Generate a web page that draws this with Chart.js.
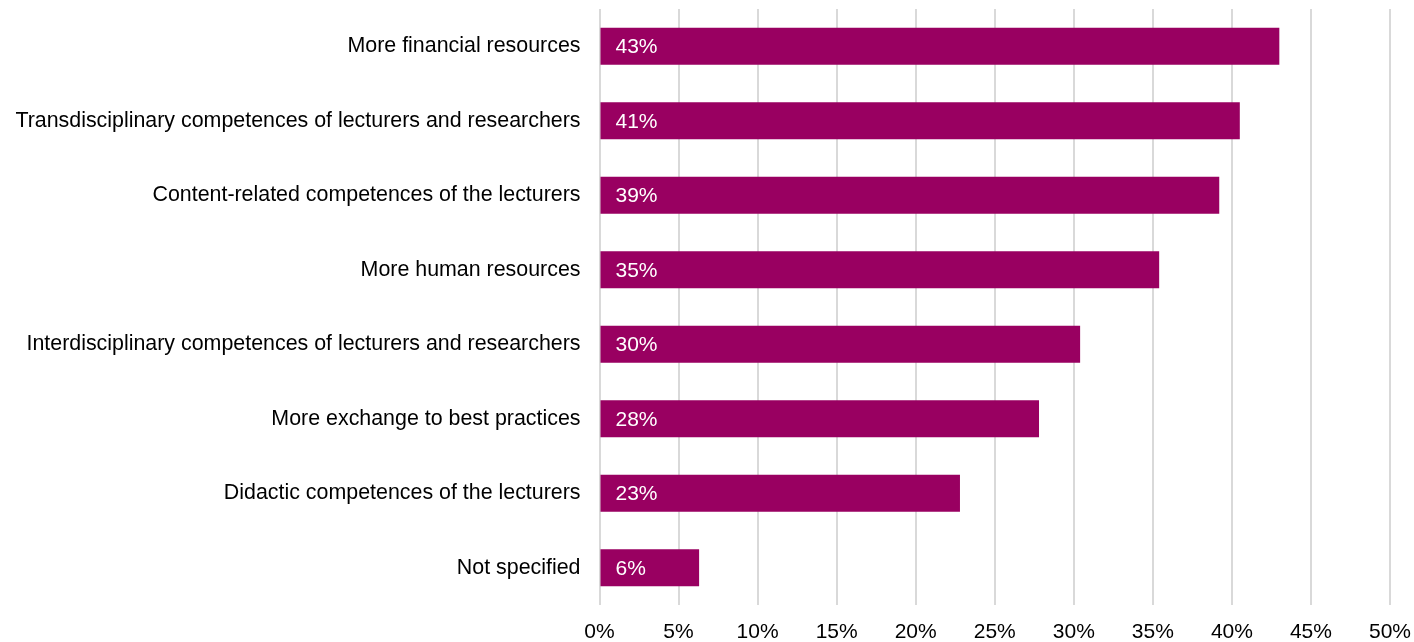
<!DOCTYPE html>
<html>
<head>
<meta charset="utf-8">
<script src="https://cdn.jsdelivr.net/npm/chart.js@4"></script>
<style>
  html, body { margin: 0; padding: 0; background: #fff; }
  #wrap { width: 1414px; height: 642px; position: relative; }
</style>
</head>
<body>
<div id="wrap"><canvas id="needs-chart"></canvas></div>
<script>
// Categories, top to bottom
const categories = [
  'More financial resources',
  'Transdisciplinary competences of lecturers and researchers',
  'Content-related competences of the lecturers',
  'More human resources',
  'Interdisciplinary competences of lecturers and researchers',
  'More exchange to best practices',
  'Didactic competences of the lecturers',
  'Not specified'
];

// Share of respondents (%)
const shares = [43.0, 40.5, 39.2, 35.4, 30.4, 27.8, 22.8, 6.3];

// Labels printed inside the bars
const shareLabels = ['43%', '41%', '39%', '35%', '30%', '28%', '23%', '6%'];

const FONT = '"Liberation Sans", Arial, sans-serif';
const BAR_COLOR = '#990061';

// draws the white value labels at the start of each bar
const insideLabels = {
  id: 'insideLabels',
  afterDatasetsDraw(chart) {
    const ctx = chart.ctx;
    const meta = chart.getDatasetMeta(0);
    ctx.save();
    ctx.font = '21px ' + FONT;
    ctx.fillStyle = '#ffffff';
    ctx.textAlign = 'left';
    ctx.textBaseline = 'middle';
    meta.data.forEach((bar, i) => {
      ctx.fillText(shareLabels[i], bar.base + 15, bar.y + 1);
    });
    ctx.restore();
  }
};

new Chart(document.getElementById('needs-chart'), {
  type: 'bar',
  data: {
    labels: categories,
    datasets: [{
      data: shares,
      backgroundColor: BAR_COLOR,
      borderWidth: 0,
      categoryPercentage: 1,
      barPercentage: 0.497
    }]
  },
  plugins: [insideLabels],
  options: {
    indexAxis: 'y',
    responsive: true,
    maintainAspectRatio: false,
    animation: false,
    layout: { padding: { top: 9, right: 24, left: 0, bottom: 0 } },
    plugins: {
      legend: { display: false },
      tooltip: { enabled: false }
    },
    scales: {
      x: {
        min: 0,
        max: 50,
        ticks: {
          stepSize: 5,
          padding: 15,
          color: '#000',
          font: { family: FONT, size: 21 },
          callback: (v) => v + '%'
        },
        grid: {
          color: '#d9d9d9',
          lineWidth: 2,
          drawTicks: false
        },
        border: { display: false },
        afterFit: (scale) => {
          scale.height = 37;
          scale.paddingLeft = 0;
          scale.paddingRight = 0;
        }
      },
      y: {
        ticks: {
          padding: 19,
          color: '#000',
          font: { family: FONT, size: 21.4 }
        },
        grid: { display: false, drawTicks: false },
        border: { display: false },
        afterFit: (scale) => {
          scale.width = 599.5;
          scale.paddingTop = 0;
          scale.paddingBottom = 0;
        }
      }
    }
  }
});
</script>
</body>
</html>
